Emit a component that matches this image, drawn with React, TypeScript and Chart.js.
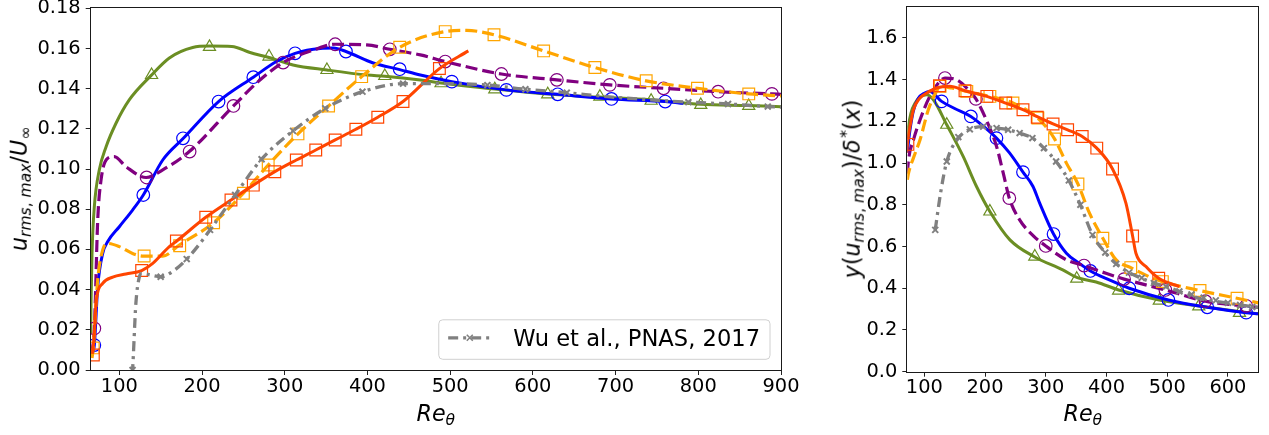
import React, { useEffect, useRef } from "react";
import { Chart, registerables } from "chart.js";

Chart.register(...registerables);

type Pt = [number, number];

// ---------------- Left panel: u_rms,max / U_inf vs Re_theta ----------------
const leftXRange: Pt = [65.4, 900];
const leftYRange: Pt = [0, 0.18];
const leftXTicks = [100, 200, 300, 400, 500, 600, 700, 800, 900];
const leftYTicks = [0, 0.02, 0.04, 0.06, 0.08, 0.1, 0.12, 0.14, 0.16, 0.18];

const leftGreenCurve: Pt[] = [
  [65.4, 0.018], [65.8, 0.033], [67, 0.058], [69.8, 0.0813], [75.8, 0.0996], [83.9, 0.111],
  [96, 0.1228], [112, 0.1344], [138.3, 0.1465], [160.5, 0.1553], [188.7, 0.1605], [209, 0.1612],
  [236, 0.161], [258, 0.158], [281, 0.1555], [310, 0.1518], [351, 0.1493], [400, 0.1468],
  [421, 0.1462], [464, 0.1443], [489, 0.1428], [554, 0.1398], [618, 0.1373], [681, 0.1358],
  [742, 0.1345], [803, 0.1322], [861, 0.1316], [900, 0.131],
];
const leftGreenMarks: Pt[] = [
  [139, 0.1468], [209, 0.1608], [281, 0.156], [351, 0.1493], [421, 0.1463], [489, 0.1427],
  [554, 0.1397], [618, 0.1372], [681, 0.136], [743, 0.134], [803, 0.1319], [861, 0.1314],
];

const leftBlueCurve: Pt[] = [
  [67, 0.008], [69.8, 0.0124], [73.9, 0.0415], [79.9, 0.058], [86, 0.0639], [100, 0.0713],
  [116, 0.0796], [129, 0.0871], [152.5, 0.1045], [177.4, 0.1153], [220, 0.1336], [262, 0.1457],
  [290, 0.1535], [312.5, 0.1576], [343, 0.16], [359, 0.1602], [374, 0.1585], [407, 0.1528],
  [439, 0.1495], [464, 0.1468], [502, 0.1435], [568, 0.1394], [630, 0.1372], [695, 0.1349],
  [760, 0.1336], [782, 0.1327],
];
const leftBlueMarks: Pt[] = [
  [69.8, 0.0124], [129, 0.0871], [177, 0.1153], [220, 0.1336], [262, 0.1457], [312.5, 0.1576],
  [374, 0.1585], [439, 0.1497], [502, 0.1435], [568, 0.1394], [630, 0.1372], [695, 0.1349],
  [760, 0.1336],
];

const leftPurpleCurve: Pt[] = [
  [66.5, 0.008], [69.8, 0.0207], [73.9, 0.0747], [77.9, 0.0946], [86, 0.1054], [94, 0.1062],
  [108, 0.1012], [132.3, 0.0958], [152.5, 0.0996], [184.6, 0.1087], [238, 0.1314], [270, 0.1443],
  [298, 0.153], [335, 0.1593], [361, 0.1621], [399, 0.1618], [427, 0.1596], [464, 0.1568],
  [494, 0.1535], [562, 0.1473], [629, 0.1444], [693, 0.1419], [758, 0.1402], [824, 0.1385],
  [889, 0.1374], [900, 0.1372],
];
const leftPurpleMarks: Pt[] = [
  [69.8, 0.0207], [133, 0.0958], [185, 0.1087], [238, 0.1314], [298, 0.153], [361, 0.1621],
  [427, 0.1596], [494, 0.1535], [562, 0.1473], [629, 0.1444], [693, 0.1419], [758, 0.1402],
  [824, 0.1385], [889, 0.1374],
];

const leftOrangeCurve: Pt[] = [
  [67, 0.006], [68.5, 0.011], [73.9, 0.045], [79.9, 0.0597], [86, 0.063], [100, 0.0614],
  [116, 0.058], [129, 0.0567], [152.5, 0.0567], [172.6, 0.0622], [214, 0.0733], [250, 0.088],
  [280, 0.102], [316, 0.1175], [353, 0.1314], [393, 0.146], [439, 0.1606], [494, 0.1684],
  [520, 0.169], [553, 0.1668], [613, 0.1588], [675, 0.1505], [737, 0.1439], [799, 0.1402],
  [861, 0.1374], [900, 0.1364],
];
const leftOrangeMarks: Pt[] = [
  [68.5, 0.011], [130, 0.0567], [173, 0.0618], [214, 0.0733], [250, 0.088], [280, 0.102],
  [316, 0.1175], [353, 0.1314], [393, 0.146], [439, 0.1606], [494, 0.1684], [553, 0.1668],
  [613, 0.1588], [675, 0.1505], [737, 0.1439], [799, 0.1402], [861, 0.1374],
];

const leftRedCurve: Pt[] = [
  [67.5, 0.008], [69.8, 0.018], [71.8, 0.0332], [79.9, 0.0431], [92, 0.0462], [108, 0.0478],
  [127, 0.0495], [140.4, 0.0531], [160.5, 0.0614], [169.4, 0.0642], [204.5, 0.076], [235, 0.0846],
  [262, 0.092], [288, 0.0987], [314, 0.1045], [337.5, 0.1095], [361, 0.1145], [386, 0.1198],
  [412.5, 0.1258], [443, 0.1336], [487, 0.15], [522, 0.1588],
];
const leftRedMarks: Pt[] = [
  [68.6, 0.0075], [127, 0.0495], [169, 0.0642], [204.5, 0.076], [235, 0.0846], [262, 0.092],
  [288, 0.0987], [314, 0.1045], [337.5, 0.1095], [361, 0.1145], [386, 0.1198], [412.5, 0.1258],
  [443, 0.1336], [487, 0.15],
];

const leftGrayCurve: Pt[] = [
  [115.5, -0.002], [116, 0], [120, 0.033], [124, 0.046], [127, 0.048], [150, 0.0464],
  [167, 0.0498], [181.5, 0.0552], [197.6, 0.063], [209.7, 0.0697], [240, 0.0871], [272, 0.1049],
  [310, 0.119], [349, 0.1302], [394, 0.1385], [443, 0.1425], [495, 0.1425], [545, 0.1418],
  [591, 0.1397], [641, 0.138], [690, 0.136], [740, 0.1345], [788, 0.1333], [836, 0.1324],
  [884, 0.1311], [900, 0.1308],
];
const leftGrayMarks: Pt[] = [
  [116, 0], [150, 0.0464], [181.5, 0.0552], [209.7, 0.0697], [240, 0.0871], [272, 0.1049],
  [310, 0.119], [349, 0.1302], [394, 0.1385], [443, 0.1425], [545, 0.1418], [591, 0.1397],
  [641, 0.138], [788, 0.1333], [836, 0.1324], [884, 0.1311],
];

const legendLabel = "Wu et al., PNAS, 2017";

// ---------------- Right panel: y(u_rms,max)/delta*(x) vs Re_theta ----------------
const rightXRange: Pt = [72, 650];
const rightYRange: Pt = [0, 1.75];
const rightXTicks = [100, 200, 300, 400, 500, 600];
const rightYTicks = [0, 0.2, 0.4, 0.6, 0.8, 1.0, 1.2, 1.4, 1.6];

const rightGreenCurve: Pt[] = [
  [72, 1.12], [74, 1.176], [78, 1.24], [85, 1.288], [92, 1.315], [98, 1.325], [104, 1.328],
  [115, 1.304], [137, 1.184], [164, 1.032], [186, 0.888], [208, 0.768], [241, 0.632],
  [282, 0.55], [328, 0.488], [351, 0.452], [383, 0.43], [420, 0.392], [487, 0.344],
  [552, 0.315], [619, 0.288], [650, 0.278],
];
const rightGreenMarks: Pt[] = [
  [137, 1.184], [208, 0.768], [282, 0.552], [351, 0.446], [420, 0.389], [487, 0.341],
  [552, 0.313], [619, 0.282],
];

const rightBlueCurve: Pt[] = [
  [72, 1.05], [76, 1.15], [82, 1.25], [90, 1.31], [100, 1.335], [109, 1.344], [128.5, 1.296],
  [150, 1.262], [176.6, 1.224], [200, 1.17], [218.8, 1.12], [240, 1.05], [262.5, 0.957],
  [279, 0.888], [290, 0.808], [312.8, 0.66], [334, 0.568], [355, 0.52], [373.5, 0.483],
  [404.7, 0.44], [437.5, 0.4], [502, 0.344], [566, 0.309], [630, 0.283], [650, 0.278],
];
const rightBlueMarks: Pt[] = [
  [128.5, 1.296], [176.6, 1.224], [218.8, 1.12], [262.5, 0.957], [312.8, 0.66], [373.5, 0.483],
  [437.5, 0.4], [502, 0.344], [566, 0.309], [630, 0.283],
];

const rightPurpleCurve: Pt[] = [
  [72, 0.95], [74, 1.016], [83, 1.12], [93, 1.208], [109, 1.32], [125, 1.39], [134, 1.408],
  [153, 1.4], [170, 1.36], [185, 1.308], [202, 1.208], [219, 1.08], [230, 0.952], [240, 0.832],
  [257, 0.728], [280, 0.65], [300, 0.603], [334, 0.536], [363, 0.509], [399, 0.472],
  [429, 0.444], [497, 0.392], [563, 0.338], [630, 0.315], [650, 0.308],
];
const rightPurpleMarks: Pt[] = [
  [134, 1.408], [185, 1.308], [240, 0.832], [300, 0.603], [363, 0.509], [429, 0.444],
  [497, 0.392], [563, 0.338], [630, 0.316],
];

const rightOrangeCurve: Pt[] = [
  [72, 0.92], [74, 0.952], [84, 1.04], [93, 1.112], [106.6, 1.256], [120, 1.344], [126, 1.368],
  [145, 1.36], [170, 1.344], [208, 1.32], [246, 1.288], [287, 1.216], [314.5, 1.116],
  [334, 1.0], [353, 0.9], [372, 0.76], [394, 0.64], [416, 0.536], [440, 0.499], [470, 0.456],
  [492, 0.432], [554, 0.389], [615, 0.352], [650, 0.33],
];
const rightOrangeMarks: Pt[] = [
  [126, 1.368], [170, 1.344], [208, 1.32], [246, 1.288], [287, 1.216], [314.5, 1.116],
  [353, 0.9], [394, 0.64], [440, 0.499], [492, 0.432], [554, 0.389], [615, 0.352],
];

const rightRedCurve: Pt[] = [
  [71, 1.05], [73, 1.112], [78, 1.2], [82, 1.256], [92, 1.31], [104, 1.336], [120, 1.36],
  [142, 1.368], [167, 1.347], [203, 1.32], [234, 1.288], [262.5, 1.256], [285, 1.224],
  [312, 1.188], [336, 1.16], [360, 1.128], [384, 1.072], [410, 0.972], [432, 0.808],
  [443, 0.651], [448.5, 0.568], [465, 0.504], [486, 0.448], [520, 0.408],
];
const rightRedMarks: Pt[] = [
  [73, 1.09], [125, 1.371], [167, 1.347], [203, 1.32], [234, 1.288], [262.5, 1.256],
  [286, 1.22], [312, 1.188], [336, 1.16], [360, 1.128], [384, 1.072], [410, 0.972],
  [443, 0.651], [486, 0.448],
];

const rightGrayCurve: Pt[] = [
  [118, 0.68], [127, 0.86], [137, 1.008], [156, 1.12], [175, 1.162], [197, 1.175],
  [219, 1.168], [238, 1.16], [257, 1.144], [278, 1.12], [297, 1.072], [317, 1.008],
  [338, 0.917], [357, 0.8], [377, 0.656], [398, 0.571], [416, 0.517], [437, 0.475],
  [454, 0.453], [478, 0.425], [498, 0.408], [525, 0.38], [552, 0.352], [575, 0.34],
  [602, 0.328], [625, 0.318], [650, 0.308],
];
const rightGrayMarks: Pt[] = [
  [118, 0.68], [137, 1.008], [156, 1.125], [175, 1.162], [197, 1.175], [219, 1.168],
  [238, 1.16], [257, 1.144], [278, 1.12], [297, 1.072], [317, 1.008], [338, 0.917],
  [357, 0.8], [377, 0.656], [398, 0.571], [416, 0.517], [437, 0.475], [458, 0.45],
  [478, 0.425], [498, 0.408], [520, 0.385], [540, 0.37], [560, 0.355], [580, 0.342],
  [600, 0.33], [620, 0.32], [640, 0.31],
];

// ---------------- Styles ----------------
const FONT = "DejaVu Sans";
const TICK_SIZE = 19.4;
const LABEL_SIZE = 22.2;
const LEGEND_SIZE = 22.6;
const GREEN = "#6b8e23";
const BLUE = "#0000ff";
const PURPLE = "#800080";
const ORANGE = "#ffa500";
const RED = "#ff4500";
const GRAY = "#808080";
const DASH = [12, 5];
const DASHDOT = [10, 5, 3, 5];

type SeriesStyle = {
  color: string;
  dash: number[];
  lineWidth: number;
  pointStyle: string;
  radius: number;
  pointWidth: number;
  order: number;
};

const greenStyle: SeriesStyle = { color: GREEN, dash: [], lineWidth: 3, pointStyle: "triangle", radius: 7, pointWidth: 1.2, order: 5 };
const blueStyle: SeriesStyle = { color: BLUE, dash: [], lineWidth: 3, pointStyle: "circle", radius: 6.3, pointWidth: 1.2, order: 4 };
const purpleStyle: SeriesStyle = { color: PURPLE, dash: DASH, lineWidth: 3.2, pointStyle: "circle", radius: 6.3, pointWidth: 1.2, order: 3 };
const orangeStyle: SeriesStyle = { color: ORANGE, dash: DASH, lineWidth: 3.2, pointStyle: "rect", radius: 8.3, pointWidth: 1.2, order: 2 };
const redStyle: SeriesStyle = { color: RED, dash: [], lineWidth: 3, pointStyle: "rect", radius: 8.3, pointWidth: 1.2, order: 1 };
const grayStyle: SeriesStyle = { color: GRAY, dash: DASHDOT, lineWidth: 3.3, pointStyle: "crossRot", radius: 4.2, pointWidth: 2, order: 0 };

const toXY = (pts: Pt[]) => pts.map(([x, y]) => ({ x, y }));

function seriesSets(curve: Pt[], marks: Pt[], s: SeriesStyle) {
  return [
    {
      data: toXY(marks),
      showLine: false,
      pointStyle: s.pointStyle,
      pointRadius: s.radius,
      pointBorderColor: s.color,
      pointBackgroundColor: "rgba(0,0,0,0)",
      pointBorderWidth: s.pointWidth,
      borderColor: s.color,
      clip: 0,
      order: s.order,
    },
    {
      data: toXY(curve),
      showLine: true,
      borderColor: s.color,
      borderWidth: s.lineWidth,
      borderDash: s.dash,
      pointRadius: 0,
      fill: false,
      cubicInterpolationMode: "monotone",
      clip: 0,
      order: s.order,
    },
  ];
}

function axis(range: Pt, ticks: number[], digits: number, fitKey: "width" | "height", fitVal: number, pad: number) {
  return {
    type: "linear",
    min: range[0],
    max: range[1],
    afterBuildTicks: (scale: any) => {
      scale.ticks = ticks.map((v) => ({ value: v }));
    },
    afterFit: (scale: any) => {
      scale[fitKey] = fitVal;
    },
    ticks: {
      autoSkip: false,
      maxRotation: 0,
      padding: pad,
      color: "#000",
      font: { family: FONT, size: TICK_SIZE },
      callback: (v: any) => Number(v).toFixed(digits),
    },
    grid: {
      display: true,
      drawOnChartArea: false,
      drawTicks: true,
      tickLength: 5,
      tickColor: "#222",
      tickWidth: 1,
    },
    border: { display: false },
  };
}

const framePlugin = {
  id: "frame",
  afterDraw(chart: any) {
    const { ctx, chartArea: a } = chart;
    ctx.save();
    ctx.strokeStyle = "#1a1a1a";
    ctx.lineWidth = 1;
    const l = Math.round(a.left) - 0.5;
    const t = Math.round(a.top) - 0.5;
    const r = Math.round(a.right) + 0.5;
    const b = Math.round(a.bottom) + 0.5;
    ctx.strokeRect(l, t, r - l, b - t);
    ctx.restore();
  },
};

const legendPlugin = {
  id: "wuLegend",
  afterDraw(chart: any) {
    const { ctx, chartArea: a } = chart;
    ctx.save();
    ctx.font = `${LEGEND_SIZE}px "${FONT}"`;
    const tw = ctx.measureText(legendLabel).width;
    const h = 39.5;
    const w = 74.4 + tw + 10;
    const right = a.right - 11;
    const bottom = a.bottom - 10.7;
    const left = right - w;
    const top = bottom - h;
    ctx.beginPath();
    const rr = 4;
    ctx.moveTo(left + rr, top);
    ctx.lineTo(right - rr, top);
    ctx.quadraticCurveTo(right, top, right, top + rr);
    ctx.lineTo(right, bottom - rr);
    ctx.quadraticCurveTo(right, bottom, right - rr, bottom);
    ctx.lineTo(left + rr, bottom);
    ctx.quadraticCurveTo(left, bottom, left, bottom - rr);
    ctx.lineTo(left, top + rr);
    ctx.quadraticCurveTo(left, top, left + rr, top);
    ctx.closePath();
    ctx.fillStyle = "rgba(255,255,255,0.8)";
    ctx.fill();
    ctx.strokeStyle = "#d0d0d0";
    ctx.lineWidth = 1;
    ctx.stroke();
    // line sample
    const ly = top + 18;
    ctx.strokeStyle = GRAY;
    ctx.lineWidth = grayStyle.lineWidth;
    ctx.setLineDash(DASHDOT);
    ctx.beginPath();
    ctx.moveTo(left + 9.4, ly);
    ctx.lineTo(left + 52.7, ly);
    ctx.stroke();
    ctx.setLineDash([]);
    // marker
    const mx = left + 31;
    const m = 3;
    ctx.lineWidth = 1.5;
    ctx.beginPath();
    ctx.moveTo(mx - m, ly - m);
    ctx.lineTo(mx + m, ly + m);
    ctx.moveTo(mx - m, ly + m);
    ctx.lineTo(mx + m, ly - m);
    ctx.stroke();
    // text
    ctx.fillStyle = "#000";
    ctx.textBaseline = "alphabetic";
    ctx.textAlign = "left";
    ctx.fillText(legendLabel, left + 74.4, top + 26);
    ctx.restore();
  },
};

function leftConfig(): any {
  return {
    type: "scatter",
    data: {
      datasets: [
        ...seriesSets(leftGrayCurve, leftGrayMarks, grayStyle),
        ...seriesSets(leftRedCurve, leftRedMarks, redStyle),
        ...seriesSets(leftOrangeCurve, leftOrangeMarks, orangeStyle),
        ...seriesSets(leftPurpleCurve, leftPurpleMarks, purpleStyle),
        ...seriesSets(leftBlueCurve, leftBlueMarks, blueStyle),
        ...seriesSets(leftGreenCurve, leftGreenMarks, greenStyle),
      ],
    },
    options: {
      animation: false,
      responsive: false,
      events: [],
      layout: { padding: { left: 40.7, right: 59, top: 28.3, bottom: 35 } },
      elements: { line: { capBezierPoints: false } },
      plugins: { legend: { display: false }, tooltip: { enabled: false } },
      scales: {
        x: axis(leftXRange, leftXTicks, 0, "height", 50, 0),
        y: axis(leftYRange, leftYTicks, 2, "width", 70, 5),
      },
    },
    plugins: [framePlugin, legendPlugin],
  };
}

function rightConfig(): any {
  return {
    type: "scatter",
    data: {
      datasets: [
        ...seriesSets(rightGrayCurve, rightGrayMarks, grayStyle),
        ...seriesSets(rightRedCurve, rightRedMarks, redStyle),
        ...seriesSets(rightOrangeCurve, rightOrangeMarks, orangeStyle),
        ...seriesSets(rightPurpleCurve, rightPurpleMarks, purpleStyle),
        ...seriesSets(rightBlueCurve, rightBlueMarks, blueStyle),
        ...seriesSets(rightGreenCurve, rightGreenMarks, greenStyle),
      ],
    },
    options: {
      animation: false,
      responsive: false,
      events: [],
      layout: { padding: { left: 27.3, right: 30.7, top: 26.7, bottom: 33.3 } },
      elements: { line: { capBezierPoints: false } },
      plugins: { legend: { display: false }, tooltip: { enabled: false } },
      scales: {
        x: axis(rightXRange, rightXTicks, 0, "height", 50, 0),
        y: axis(rightYRange, rightYTicks, 1, "width", 60, 5),
      },
    },
    plugins: [framePlugin],
  };
}

const sub: React.CSSProperties = { fontSize: "0.7em", position: "relative", top: "0.28em" };
const sup: React.CSSProperties = { fontSize: "0.7em", position: "relative", top: "-0.5em", marginLeft: "0.1em" };
const labelBase: React.CSSProperties = {
  position: "absolute",
  fontFamily: `"${FONT}", sans-serif`,
  fontSize: LABEL_SIZE,
  lineHeight: 1,
  whiteSpace: "nowrap",
  color: "#000",
};

export default function App() {
  const leftRef = useRef<HTMLCanvasElement>(null);
  const rightRef = useRef<HTMLCanvasElement>(null);

  useEffect(() => {
    const c1 = new Chart(leftRef.current as HTMLCanvasElement, leftConfig());
    const c2 = new Chart(rightRef.current as HTMLCanvasElement, rightConfig());
    return () => {
      c1.destroy();
      c2.destroy();
    };
  }, []);

  return (
    <div style={{ position: "absolute", left: 0, top: 0, width: 1269, height: 435, overflow: "hidden", background: "#fff" }}>
      <canvas ref={leftRef} width={860} height={475} style={{ position: "absolute", left: -20, top: -20, width: 860, height: 475 }} />
      <canvas ref={rightRef} width={469} height={475} style={{ position: "absolute", left: 820, top: -20, width: 469, height: 475 }} />

      <div style={{ ...labelBase, left: 435.8, top: 401.5, transform: "translateX(-50%)" }}>
        <i>Re</i>
        <span style={sub}><i>θ</i></span>
      </div>
      <div style={{ ...labelBase, left: 1082.8, top: 401.5, transform: "translateX(-50%)" }}>
        <i>Re</i>
        <span style={sub}><i>θ</i></span>
      </div>

      <div style={{ ...labelBase, left: 18.5, top: 189.2, transform: "translate(-50%, -50%) rotate(-90deg)" }}>
        <i>u</i>
        <span style={sub}><i>rms</i>, <i>max</i></span>
        /<i>U</i>
        <span style={sub}>∞</span>
      </div>
      <div style={{ ...labelBase, left: 851.5, top: 189.2, transform: "translate(-50%, -50%) rotate(-90deg)" }}>
        <i>y</i>(<i>u</i>
        <span style={sub}><i>rms</i>, <i>max</i></span>
        )/<i>δ</i>
        <span style={sup}>*</span>
        (<i>x</i>)
      </div>
    </div>
  );
}
